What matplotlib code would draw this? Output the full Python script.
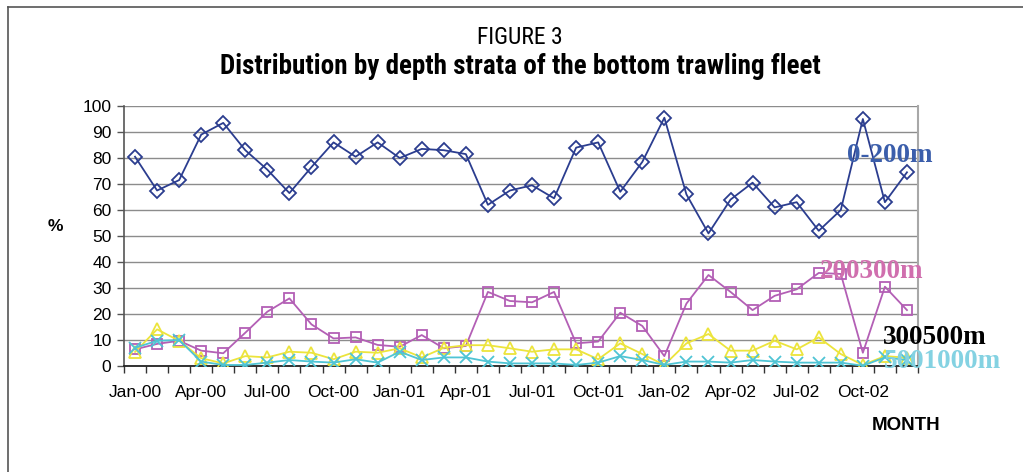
import matplotlib
matplotlib.use("Agg")
import matplotlib.pyplot as plt
from matplotlib.lines import Line2D
from matplotlib import font_manager

months = ["Jan-00", "Feb-00", "Mar-00", "Apr-00", "May-00", "Jun-00", "Jul-00", "Aug-00", "Sep-00", "Oct-00", "Nov-00", "Dec-00",
          "Jan-01", "Feb-01", "Mar-01", "Apr-01", "May-01", "Jun-01", "Jul-01", "Aug-01", "Sep-01", "Oct-01", "Nov-01", "Dec-01",
          "Jan-02", "Feb-02", "Mar-02", "Apr-02", "May-02", "Jun-02", "Jul-02", "Aug-02", "Sep-02", "Oct-02", "Nov-02", "Dec-02"]

depth_0_200 = [80.5, 67.5, 71.5, 89, 93.5, 83, 75.5, 66.5, 76.5, 86, 80.5, 86,
               80, 83.5, 83, 81.5, 62, 67.5, 69.5, 64.5, 84, 86, 67, 78.5,
               95.5, 66, 51, 64, 70.5, 61, 63, 52, 60, 95, 63, 74.5]
depth_200_300 = [6.4, 8.5, 9.7, 5.9, 4.9, 12.8, 20.9, 26, 16, 10.6, 11, 8.1,
                 7.4, 11.9, 6.8, 7.7, 28.5, 25, 24.5, 28.5, 8.7, 9.4, 20.5, 15.4,
                 3.8, 24, 35, 28.5, 21.5, 27, 29.5, 35.8, 35.4, 5.1, 30.5, 21.5]
depth_300_500 = [5.4, 14.1, 9.7, 3, 1, 3.8, 3.3, 5.5, 5.1, 2.6, 5.5, 5.1,
                 6.8, 3.3, 7, 8, 8, 6.8, 5.5, 6.4, 6.4, 2.6, 8.7, 4.6,
                 0.4, 8.7, 12.3, 5.9, 5.9, 9.7, 6.4, 11, 4.6, 0.4, 3.8, 3.2]
depth_500_1000 = [7, 9.7, 10, 1.7, 0.4, 0.4, 1.3, 2.3, 1.7, 1.3, 2.6, 1.3,
                  5.5, 2.3, 3.3, 3.3, 1.7, 1, 1, 1, 0.4, 1.3, 3.8, 2.3,
                  0.4, 1.7, 1.7, 1.3, 2.3, 1.7, 1.3, 1.3, 1.3, 0.1, 3.3, 2.3]

tick_labels = ["Jan-00", "Apr-00", "Jul-00", "Oct-00", "Jan-01", "Apr-01",
               "Jul-01", "Oct-01", "Jan-02", "Apr-02", "Jul-02", "Oct-02"]
series_labels = ["0-200m", "200300m", "300500m", "5001000m"]

SANS = ["Liberation Sans", "DejaVu Sans"]
SERIF = ["Liberation Serif", "DejaVu Serif"]

available = {f.name for f in font_manager.fontManager.ttflist}
narrow = None
for cand in ["Liberation Sans Narrow", "Roboto Condensed", "Open Sans Condensed", "Noto Sans Condensed"]:
    if cand in available:
        narrow = cand
        break
if narrow:
    TITLE_FAM = [narrow, "Liberation Sans"]
    fig3_size, title_size = 17, 19.5
else:
    TITLE_FAM = SANS
    fig3_size, title_size = 13.5, 16.5

fig = plt.figure(figsize=(10.23, 4.72), dpi=100)
fig.patch.set_facecolor("white")
ax = fig.add_axes([124/1023, 1-366/472, (918-124)/1023, (366-106)/472])

x = list(range(len(months)))
styles = [
    (depth_0_200, "#2b3d8f", "D", 6.8),
    (depth_200_300, "#b35fb5", "s", 7.2),
    (depth_300_500, "#ece43c", "^", 8),
    (depth_500_1000, "#4fc4d4", "x", 8),
]
for vals, col, mk, ms in styles:
    ax.plot(x, vals, color=col, lw=1.3, marker=mk, markersize=ms,
            markerfacecolor="none", markeredgecolor=col, markeredgewidth=1.3,
            zorder=3)

ax.set_xlim(-0.5, len(months) - 0.5)
ax.set_ylim(0, 100)
ax.set_yticks(range(0, 101, 10))
ax.yaxis.grid(True, color="#8c8c8c", lw=1.0)
ax.set_axisbelow(True)

label_pos = [months.index(m) for m in tick_labels]
ax.set_xticks(label_pos)
ax.set_xticklabels(tick_labels, fontsize=12.5, family=SANS)
ax.tick_params(axis="x", which="major", length=0, pad=14)
ax.set_xticks([i - 0.5 for i in range(len(months) + 1)], minor=True)
ax.tick_params(axis="x", which="minor", length=5, width=1, color="#333333", direction="out")
ax.tick_params(axis="y", length=5, width=1, color="#555555", labelsize=12.5, pad=4)
for lab in ax.get_yticklabels():
    lab.set_family(SANS)

ax.spines["top"].set_visible(False)
ax.spines["left"].set_color("#555555")
ax.spines["bottom"].set_color("#222222")
ax.spines["right"].set_color("#a8a8a8")
ax.spines["bottom"].set_linewidth(1.3)
ax.spines["left"].set_linewidth(1.2)
ax.spines["right"].set_linewidth(1.5)

# series labels (overlapping text labels as in the original)
lab_size = 19.5
fig.text(847/1023, 1-155/472, series_labels[0], color="#3b5eab", fontsize=lab_size,
         fontweight="bold", family=SERIF, va="center", ha="left")
fig.text(820/1023, 1-272/472, series_labels[1], color="#d06fae", fontsize=lab_size,
         fontweight="bold", family=SERIF, va="center", ha="left")
fig.text(883/1023, 1-338/472, series_labels[2], color="#000000", fontsize=lab_size,
         fontweight="bold", family=SERIF, va="center", ha="left")
fig.text(884/1023, 1-362/472, series_labels[3], color="#84d2e2", fontsize=lab_size,
         fontweight="bold", family=SERIF, va="center", ha="left")

fig.text(55/1023, 1-226/472, "%", fontsize=12.5, fontweight="bold", family=SANS,
         ha="center", va="center")
fig.text(906/1023, 1-426/472, "MONTH", fontsize=13.5, fontweight="bold", family=SANS,
         ha="center", va="center")

fig.text(520/1023, 1-38/472, "FIGURE 3", fontsize=fig3_size, family=TITLE_FAM,
         ha="center", va="center")
fig.text(520/1023, 1-66/472, "Distribution by depth strata of the bottom trawling fleet",
         fontsize=title_size, fontweight="bold", family=TITLE_FAM, ha="center", va="center")

# frame lines
fig.add_artist(Line2D([8/1023, 8/1023], [0, 1-7/472], transform=fig.transFigure,
                      color="#555555", lw=1.2))
fig.add_artist(Line2D([8/1023, 1.0], [1-7/472, 1-7/472], transform=fig.transFigure,
                      color="#555555", lw=1.2))

fig.savefig("out.png", dpi=100, facecolor="white")
